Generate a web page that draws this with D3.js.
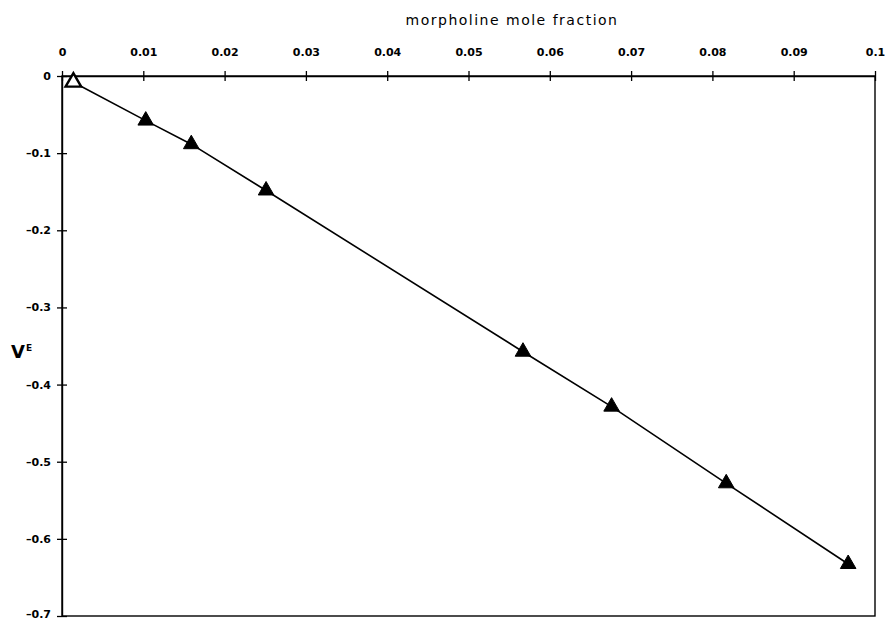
<!DOCTYPE html>
<html><head><meta charset="utf-8">
<script src="https://cdn.jsdelivr.net/npm/d3@7"></script>
<style>body{margin:0;background:#fff}svg{display:block}</style>
</head><body>
<svg id="c" width="885" height="622"></svg>
<script>
const xValues = [0.0014, 0.0103, 0.0159, 0.0251, 0.0567, 0.0676, 0.0817, 0.0967];
const yValues = [-0.008, -0.0578, -0.0884, -0.1484, -0.3574, -0.4286, -0.528, -0.6326];
const hollow = [true, false, false, false, false, false, false, false];
const xTicks = [0, 0.01, 0.02, 0.03, 0.04, 0.05, 0.06, 0.07, 0.08, 0.09, 0.1];
const xTickLabels = ["0","0.01","0.02","0.03","0.04","0.05","0.06","0.07","0.08","0.09","0.1"];
const yTicks = [0, -0.1, -0.2, -0.3, -0.4, -0.5, -0.6, -0.7];
const yTickLabels = ["0","\u20130.1","\u20130.2","\u20130.3","\u20130.4","\u20130.5","\u20130.6","\u20130.7"];
const xTitle = "morpholine mole fraction";

const svg = d3.select("#c");
const L = 62, R = 875, T = 76, B = 616;
const x = d3.scaleLinear().domain([0, 0.1]).range([L, R]);
const y = d3.scaleLinear().domain([0, -0.7]).range([T, B]);
const font = "'DejaVu Sans', sans-serif";

// frame
svg.append("rect").attr("x", L).attr("y", T).attr("width", R - L).attr("height", B - T)
  .attr("fill", "none").attr("stroke", "#000").attr("stroke-width", 1.4);

// top axis
const xa = svg.append("g").attr("transform", `translate(0,${T})`)
  .call(d3.axisTop(x).tickValues(xTicks).tickSizeInner(5).tickSizeOuter(0)
    .tickFormat((d, i) => xTickLabels[i]));
xa.select(".domain").attr("stroke-width", 1.4);
xa.selectAll(".tick line").attr("y1", 5).attr("y2", -5).attr("stroke-width", 1.3);
xa.selectAll(".tick text").attr("y", -20).attr("dy", 0)
  .style("font-family", font).style("font-size", "11px").style("font-weight", "bold");

// left axis
const ya = svg.append("g").attr("transform", `translate(${L},0)`)
  .call(d3.axisLeft(y).tickValues(yTicks).tickSizeInner(5).tickSizeOuter(0)
    .tickFormat((d, i) => yTickLabels[i]));
ya.select(".domain").attr("stroke-width", 1.4);
ya.selectAll(".tick line").attr("x1", 5).attr("x2", -5).attr("stroke-width", 1.3);
ya.selectAll(".tick text").attr("x", -11)
  .attr("dy", (d, i) => i === yTicks.length - 1 ? "0.12em" : "0.32em")
  .style("font-family", font).style("font-size", "11px").style("font-weight", "bold");

// title
svg.append("text").attr("x", 512).attr("y", 25).attr("text-anchor", "middle")
  .style("font-family", font).style("font-size", "14px").style("letter-spacing", "1.5px")
  .text(xTitle);

// y label
const yl = svg.append("text").attr("x", 11).attr("y", 358)
  .style("font-family", font).style("font-weight", "bold").style("font-size", "18px");
yl.append("tspan").text("V");
yl.append("tspan").attr("dy", -7).attr("dx", 1).style("font-size", "9px").text("E");

// line
const pts = xValues.map((v, i) => [v, yValues[i]]);
svg.append("path").datum(pts)
  .attr("d", d3.line().x(d => x(d[0])).y(d => y(d[1])))
  .attr("fill", "none").attr("stroke", "#000").attr("stroke-width", 1.6);

// markers
const tri = d3.symbol().type(d3.symbolTriangle).size(105);
svg.selectAll(".m").data(pts).enter().append("path")
  .attr("transform", d => `translate(${x(d[0])},${y(d[1])})`)
  .attr("d", tri)
  .attr("fill", (d, i) => hollow[i] ? "#fff" : "#000")
  .attr("stroke", "#000").attr("stroke-width", (d, i) => hollow[i] ? 2.4 : 1);
</script>
</body></html>
